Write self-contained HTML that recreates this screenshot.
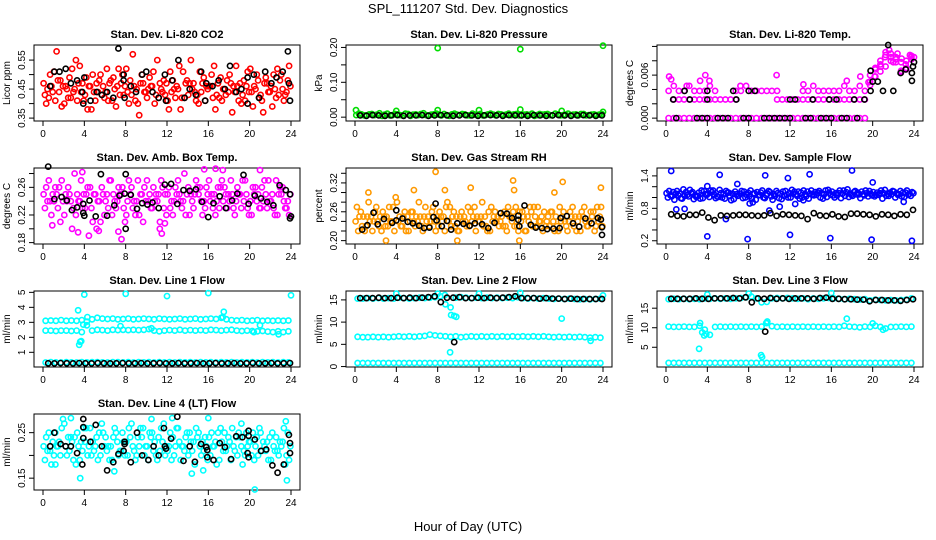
<!DOCTYPE html>
<html><head><meta charset="utf-8"><title>SPL_111207 Std. Dev. Diagnostics</title>
<style>
html,body{margin:0;padding:0;background:#fff;}
svg{display:block;font-family:"Liberation Sans",Arial,sans-serif;}
</style></head>
<body>
<svg id="chart" width="936" height="540" viewBox="0 0 936 540" xmlns="http://www.w3.org/2000/svg">
<rect x="0" y="0" width="936" height="540" fill="#fff"/>
<text x="468" y="13" text-anchor="middle" font-size="13">SPL_111207  Std. Dev. Diagnostics</text>
<text x="468" y="531" text-anchor="middle" font-size="13">Hour of Day (UTC)</text>
</svg>
<script>
// ===== data =====
const xTicks = [0,4,8,12,16,20,24];
// CO2 (red cloud, black)
const co2A = [0.47,0.42,0.51,0.44,0.40,0.49,0.45,0.53,0.43,0.46,0.41,0.50,0.44,0.48,0.39,0.47,0.52,0.43,0.45,0.50,0.42,0.46,0.55,0.44,0.41,0.48,0.45,0.51,0.43,0.47,0.40,0.49,0.46,0.53,0.42,0.45,0.50,0.44,0.47,0.41,0.52,0.45,0.43,0.49,0.46,0.42,0.50,0.44];
const co2B = [0.43,0.50,0.41,0.48,0.46,0.42,0.55,0.44,0.49,0.38,0.47,0.43,0.52,0.41,0.46,0.50,0.44,0.57,0.40,0.47,0.45,0.51,0.42,0.48,0.38,0.45,0.53,0.42,0.47,0.44,0.51,0.41,0.46,0.38,0.49,0.43,0.47,0.53,0.40,0.46,0.44,0.50,0.41,0.47,0.39,0.52,0.45,0.48];
const co2C = [0.40,0.46,0.58,0.39,0.45,0.52,0.41,0.47,0.38,0.50,0.44,0.46,0.41,0.49,0.52,0.43,0.40,0.46,0.36,0.44,0.49,0.40,0.47,0.43,0.51,0.42,0.38,0.47,0.55,0.41,0.44,0.46,0.50,0.43,0.41,0.48,0.37,0.46,0.43,0.51,0.39,0.48,0.37,0.44,0.50,0.43,0.41,0.53];
const co2D = [0.45,0.44,0.48,0.46,0.42,0.44,0.47,0.41,0.46,0.44,0.48,0.42,0.47,0.45,0.43,0.46,0.48,0.41,0.47,0.44,0.46,0.43,0.45,0.47,0.44,0.46,0.42,0.48,0.45,0.43,0.47,0.45,0.42,0.47,0.45,0.44,0.46,0.41,0.48,0.44,0.46,0.42,0.47,0.44,0.45,0.48,0.43,0.46];
const co2BlkH = [0.7,1.1,1.6,2.2,2.7,3.3,3.8,3.9,4.0,4.6,5.2,5.7,6.2,6.8,7.3,7.8,7.8,7.9,8.5,9.0,9.6,10.0,10.6,11.2,11.8,11.9,12.5,13.1,13.7,14.2,14.8,15.3,15.7,15.8,16.4,17.0,17.6,18.1,18.7,19.2,19.8,19.8,20.4,20.9,21.5,22.1,22.6,23.2,23.7,23.8,23.9];
const co2BlkV = [0.46,0.51,0.51,0.52,0.47,0.48,0.44,0.40,0.49,0.41,0.44,0.43,0.44,0.42,0.59,0.50,0.48,0.42,0.46,0.44,0.50,0.51,0.44,0.42,0.50,0.41,0.48,0.55,0.42,0.45,0.43,0.51,0.41,0.47,0.46,0.48,0.45,0.53,0.44,0.45,0.49,0.40,0.50,0.42,0.51,0.47,0.49,0.51,0.58,0.47,0.41];
// Pressure
const prA = [0.006,0.008,0.005,0.009,0.007,0.004,0.010,0.006,0.008,0.005,0.009,0.007,0.006,0.011,0.005,0.008,0.007,0.009,0.004,0.010,0.006,0.008,0.005,0.007,0.009,0.006,0.010,0.005,0.008,0.007,0.006,0.009,0.005,0.008,0.010,0.006,0.007,0.009,0.005,0.008,0.006,0.010,0.007,0.005,0.009,0.006,0.008,0.007];
const prB = [0.010,0.005,0.008,0.006,0.011,0.007,0.005,0.009,0.006,0.010,0.004,0.008,0.009,0.006,0.007,0.010,0.005,0.006,0.008,0.007,0.009,0.005,0.010,0.006,0.005,0.008,0.007,0.009,0.006,0.010,0.008,0.005,0.007,0.006,0.004,0.009,0.008,0.006,0.010,0.005,0.007,0.006,0.008,0.009,0.005,0.007,0.006,0.009];
const prOutH = [0.1,4.0,8.0,8.0,12.0,16.0,16.0,20.0,24.0,24.0];
const prOutV = [0.020,0.018,0.020,0.198,0.020,0.195,0.022,0.018,0.205,0.015];
const prBlk = [0.005,0.004,0.006,0.005,0.004,0.005,0.006,0.004,0.005,0.005,0.006,0.004,0.005,0.006,0.005,0.004,0.005,0.006,0.005,0.004,0.005,0.006,0.005,0.004,0.006,0.005,0.005,0.004,0.006,0.005,0.004,0.005,0.006,0.005,0.004,0.005,0.006,0.005,0.004,0.005];
// Li-820 Temp
const tmA = [0,0,0,0,0,0,0,0,0,0,0,0,0,0,0,0,0,0,0,0,0,0,0,0,0,0,0,0,0,0,0,0,0,0,0,0,0,0,0,0.0051,0.0058,0.0065,0.0072,0.0080,0.0085,0.0078,0.0070,0.0082];
const tmB = [null,0.0026,0.0026,0.0026,0.0026,0.0026,0.0026,0.0026,0.0026,0.0026,0.0026,0.0026,0.0026,0.0026,null,null,null,null,null,null,null,0.0026,0.0026,0.0026,0.0026,0.0026,0.0026,0.0026,0.0026,0.0026,0.0026,0.0026,0.0026,0.0026,0.0026,0.0026,0.0026,0.0026,0.0026,0.0060,0.0068,0.0075,0.0088,0.0090,0.0082,0.0064,0.0068,0.0085];
const tmC = [0.0038,0.0045,0.0038,0.0038,0.0045,0.0038,0.0038,0.0038,0.0045,0.0038,null,null,null,0.0038,0.0038,0.0045,0.0038,0.0038,0.0038,0.0038,0.0038,0.0038,null,null,null,null,0.0038,0.0038,0.0045,0.0038,0.0038,0.0038,0.0038,0.0038,0.0045,0.0038,0.0038,0.0045,0.0038,0.0046,0.0070,0.0080,0.0092,0.0085,0.0078,0.0066,0.0080,0.0087];
const tmOutH = [0.3,0.5,2.0,3.3,3.8,4.2,7.2,10.7,13.3,17.5,18.8,19.6,20.2,20.8,21.2,21.6,22.0,22.4,22.8,23.2,23.6,24.0];
const tmOutV = [0.0058,0.0054,0.0045,0.0052,0.0060,0.0052,0.0045,0.0060,0.0047,0.0052,0.0058,0.0050,0.0058,0.0072,0.0085,0.0095,0.0078,0.0090,0.0083,0.0075,0.0088,0.0085];
const tmBlkH = [1.0,3.0,3.5,4.0,5.0,5.5,6.0,7.5,8.0,9.5,10.0,10.5,11.0,11.5,12.0,13.5,14.0,15.0,15.5,16.0,17.0,17.5,18.5,0.7,2.3,4.0,6.8,12.0,12.5,14.2,15.8,16.5,18.2,19.2,1.8,4.0,6.5,8.0,8.6,19.8,19.8,20.0,20.5,21.0,21.5,22.0,22.7,23.2,23.8,23.8,23.9,24.0];
const tmBlkV = [0,0,0,0,0,0,0,0,0,0,0,0,0,0,0,0,0,0,0,0,0,0,0,0.0026,0.0026,0.0026,0.0026,0.0026,0.0026,0.0026,0.0026,0.0026,0.0026,0.0026,0.0038,0.0038,0.0038,0.0038,0.0038,0.0038,0.0066,0.0051,0.0051,0.0038,0.0102,0.0038,0.0063,0.0068,0.0052,0.0063,0.0072,0.0078];
// Amb box temp
const abA = [0.25,0.27,0.24,0.26,0.22,0.25,0.28,0.24,0.23,0.26,0.25,0.21,0.24,0.27,0.23,0.25,0.22,0.26,0.24,0.25,0.27,0.23,0.24,0.26,0.25,0.22,0.27,0.24,0.26,0.23,0.25,0.24,0.27,0.25,0.23,0.26,0.24,0.22,0.25,0.27,0.24,0.26,0.23,0.25,0.24,0.27,0.25,0.23];
const abB = [0.23,0.24,0.26,0.21,0.25,0.24,0.22,0.27,0.25,0.23,0.20,0.26,0.25,0.22,0.24,0.26,0.24,0.23,0.27,0.21,0.24,0.26,0.25,0.23,0.26,0.24,0.25,0.28,0.22,0.25,0.26,0.23,0.24,0.22,0.26,0.25,0.27,0.24,0.23,0.25,0.22,0.24,0.26,0.23,0.25,0.22,0.26,0.24];
const abC = [0.26,0.22,0.25,0.27,0.24,0.20,0.25,0.23,0.26,0.21,0.24,0.25,0.23,0.25,0.26,0.23,0.27,0.24,0.22,0.26,0.25,0.24,0.21,0.25,0.23,0.26,0.24,0.22,0.25,0.27,0.24,0.26,0.25,0.24,0.27,0.23,0.25,0.26,0.27,0.23,0.26,0.25,0.24,0.27,0.23,0.25,0.24,0.22];
const abD = [0.24,0.25,0.23,0.24,0.26,0.23,0.24,0.25,0.19,0.25,0.24,0.22,0.27,0.24,0.25,0.21,0.25,0.22,0.25,0.24,0.23,0.25,0.27,0.22,0.24,0.25,0.23,0.25,0.24,0.26,0.22,0.25,0.23,0.26,0.24,0.25,0.23,0.25,0.24,0.22,0.25,0.23,0.27,0.24,0.22,0.26,0.23,0.25];
const abOutH = [0.9,3.4,3.8,5.4,7.3,7.6,11.3,11.5,11.8,15.6,16.7,17.4,21.0];
const abOutV = [0.205,0.195,0.282,0.197,0.196,0.185,0.200,0.193,0.208,0.286,0.287,0.285,0.285];
const abBlkH = [0.5,1.1,1.8,2.3,2.8,3.3,3.9,3.9,4.0,4.5,5.1,5.6,6.2,6.9,7.4,7.9,8.0,8.0,8.5,9.1,9.6,10.1,10.6,11.2,11.8,12.4,13.0,13.6,14.2,14.8,15.4,16.0,16.5,17.1,17.7,18.3,18.8,19.4,19.9,20.5,21.1,21.7,22.3,22.9,23.5,23.9,24.0,23.9];
const abBlkV = [0.290,0.243,0.246,0.241,0.227,0.231,0.236,0.223,0.219,0.241,0.218,0.279,0.219,0.234,0.248,0.251,0.200,0.279,0.249,0.229,0.237,0.235,0.238,0.230,0.264,0.265,0.236,0.256,0.255,0.257,0.239,0.217,0.237,0.247,0.230,0.241,0.251,0.278,0.236,0.248,0.244,0.239,0.234,0.263,0.256,0.250,0.218,0.215];
// Gas stream RH
const rhA = [0.24,0.26,0.23,0.25,0.27,0.22,0.25,0.24,0.28,0.23,0.25,0.26,0.24,0.22,0.25,0.27,0.23,0.25,0.24,0.26,0.22,0.25,0.23,0.27,0.24,0.25,0.22,0.26,0.24,0.23,0.25,0.27,0.24,0.22,0.26,0.23,0.25,0.24,0.26,0.23,0.25,0.22,0.27,0.24,0.25,0.23,0.26,0.24];
const rhB = [0.27,0.23,0.25,0.22,0.24,0.26,0.23,0.27,0.24,0.25,0.22,0.24,0.28,0.25,0.23,0.24,0.26,0.22,0.27,0.23,0.25,0.24,0.26,0.22,0.25,0.23,0.27,0.24,0.25,0.22,0.24,0.23,0.26,0.25,0.23,0.27,0.22,0.25,0.24,0.22,0.26,0.24,0.23,0.25,0.27,0.24,0.22,0.25];
const rhC = [0.22,0.25,0.28,0.24,0.23,0.25,0.27,0.22,0.25,0.26,0.24,0.23,0.25,0.27,0.24,0.22,0.25,0.27,0.23,0.25,0.26,0.23,0.24,0.25,0.28,0.22,0.24,0.25,0.23,0.27,0.26,0.22,0.25,0.24,0.27,0.24,0.26,0.23,0.22,0.27,0.24,0.26,0.25,0.22,0.24,0.26,0.23,0.27];
const rhD = [0.25,0.22,0.24,0.26,0.25,0.23,0.24,0.29,0.23,0.22,0.26,0.25,0.23,0.24,0.26,0.25,0.24,0.28,0.25,0.22,0.24,0.27,0.25,0.24,0.23,0.26,0.25,0.23,0.26,0.25,0.23,0.26,0.22,0.27,0.25,0.24,0.23,0.26,0.25,0.24,0.23,0.25,0.22,0.26,0.23,0.25,0.27,0.23];
const rhOutH = [1.3,3.0,5.7,7.8,8.7,9.9,11.2,15.3,15.4,15.9,19.3,20.1,23.8];
const rhOutV = [0.300,0.200,0.305,0.343,0.305,0.200,0.310,0.325,0.305,0.200,0.300,0.322,0.310];
const rhBlkH = [0.7,1.2,1.8,2.2,2.8,3.6,4.0,4.0,4.6,5.1,5.6,6.2,6.7,7.2,7.6,7.8,7.9,8.4,8.9,9.3,9.9,10.5,11.1,11.6,12.3,12.9,13.5,14.1,14.7,15.2,15.8,15.8,15.9,16.4,17.0,17.5,18.1,18.6,19.2,19.8,19.9,20.5,21.1,21.7,22.3,22.9,23.5,23.8,23.9,23.9];
const rhBlkV = [0.223,0.232,0.258,0.234,0.245,0.237,0.263,0.242,0.246,0.239,0.236,0.231,0.226,0.227,0.249,0.277,0.242,0.230,0.241,0.223,0.236,0.235,0.231,0.236,0.234,0.226,0.237,0.257,0.256,0.247,0.252,0.243,0.230,0.273,0.233,0.227,0.226,0.224,0.225,0.226,0.247,0.251,0.236,0.229,0.246,0.236,0.247,0.244,0.228,0.212];
// Sample flow
const sfA = [1.08,1.02,1.12,0.98,1.05,1.10,1.03,0.99,1.07,1.13,1.01,1.06,1.09,0.97,1.04,1.11,1.02,1.08,1.05,0.99,1.10,1.03,1.07,1.12,1.00,1.06,1.09,1.02,1.13,1.05,1.08,1.01,1.11,1.04,1.07,1.15,1.03,1.09,1.06,1.02,1.10,1.05,1.08,1.03,1.11,1.06,1.01,1.07];
const sfB = [1.00,1.10,1.04,1.15,1.02,0.97,1.09,1.12,1.01,1.05,1.14,0.98,1.03,1.11,1.07,1.00,1.13,0.96,1.09,1.04,1.02,1.12,0.97,1.05,1.14,1.03,1.00,1.11,1.06,1.09,0.98,1.14,1.04,1.08,1.13,1.01,1.10,1.06,1.04,1.12,1.02,1.08,1.14,1.09,1.00,1.12,1.09,1.03];
const sfC = [1.12,0.96,1.07,1.03,1.14,1.04,0.98,1.06,1.13,0.99,1.08,1.12,0.95,1.06,1.12,1.05,0.98,1.10,1.13,1.07,0.96,1.08,1.11,1.00,1.07,1.11,1.13,0.98,1.04,1.12,1.06,1.09,1.00,1.13,1.03,1.07,1.12,0.99,1.13,1.07,1.05,1.13,1.03,1.06,1.08,1.02,1.13,1.10];
const sfD = [1.04,1.07,0.99,1.10,1.08,1.01,1.13,1.05,1.10,1.02,1.00,1.09,1.07,1.03,0.99,1.09,1.07,1.04,1.00,1.12,1.06,0.99,1.03,1.08,1.11,0.98,1.06,1.07,1.10,1.00,1.13,1.05,1.08,0.99,1.10,1.05,1.06,1.11,1.08,1.04,1.09,0.98,1.07,1.12,1.05,1.09,1.05,1.08];
const sfOutH = [0.5,1.0,1.8,4.0,4.0,5.2,5.8,6.9,7.9,8.1,8.4,9.6,10.0,11.0,11.8,12.0,12.5,13.3,13.9,15.9,18.0,19.9,20.0,23.0,23.8];
const sfOutV = [1.49,0.78,0.79,0.28,1.21,1.42,0.60,1.25,0.23,0.89,0.91,1.41,0.76,0.83,1.36,0.31,0.88,0.95,1.43,0.25,1.50,0.22,1.28,0.92,0.20];
const sfBlk = [0.69,0.66,0.65,0.68,0.68,0.72,0.63,0.58,0.67,0.66,0.67,0.68,0.68,0.67,0.66,0.67,0.71,0.66,0.69,0.68,0.67,0.66,0.60,0.71,0.67,0.66,0.69,0.65,0.64,0.70,0.70,0.69,0.68,0.65,0.69,0.68,0.66,0.69,0.68,0.77];
// Line 1 flow
const l1A = [3.10,3.12,3.10,3.15,3.10,3.12,3.10,3.15,3.05,3.20,3.30,3.25,3.22,3.25,3.20,3.22,3.25,3.20,3.22,3.25,3.22,3.20,3.25,3.22,3.20,3.22,3.25,3.20,3.22,3.25,3.20,3.22,3.25,3.22,3.30,3.20,3.15,3.12,3.15,3.10,3.12,3.15,3.10,3.12,3.10,3.12,3.10,3.12];
const l1B = [2.45,2.45,2.42,2.45,2.45,2.42,2.45,2.35,2.80,2.45,2.50,2.48,2.45,2.50,2.48,2.50,2.48,2.50,2.48,2.50,2.55,2.45,2.40,2.45,2.48,2.45,2.50,2.45,2.48,2.45,2.48,2.45,2.50,2.48,2.45,2.48,2.50,2.45,2.42,2.45,2.42,2.40,2.42,2.38,2.35,2.40,2.35,2.40];
const l1C = [0.32,0.35,0.33,0.32,0.35,0.33,0.32,0.35,0.33,0.34,0.35,0.33,0.32,0.35,0.34,0.33,0.35,0.32,0.34,0.33,0.35,0.32,0.34,0.33,0.35,0.32,0.34,0.33,0.35,0.32,0.34,0.33,0.35,0.32,0.34,0.33,0.35,0.32,0.34,0.33,0.35,0.32,0.34,0.33,0.35,0.32,0.34,0.33];
const l1OutH = [3.4,3.5,3.6,3.7,3.9,4.0,4.3,8.0,12.0,16.0,24.0,7.5,10.5,17.5,17.4,21.0,22.8,20.4];
const l1OutV = [3.80,1.50,1.70,1.75,2.85,4.85,3.35,4.90,4.75,4.95,4.80,2.75,2.60,3.70,3.35,2.80,2.20,2.35];
const l1Blk = [0.27,0.26,0.28,0.27,0.26,0.28,0.27,0.26,0.28,0.27,0.26,0.27,0.28,0.26,0.27,0.28,0.26,0.27,0.28,0.26,0.27,0.28,0.26,0.27,0.28,0.26,0.27,0.28,0.26,0.27,0.28,0.26,0.27,0.28,0.26,0.27,0.28,0.26,0.27,0.28];
// Line 2 flow
const l2A = [15.3,15.3,15.4,15.3,15.4,15.3,15.4,15.3,15.5,15.4,15.3,15.4,15.5,15.4,15.5,15.6,15.8,14.0,13.3,15.5,15.6,15.5,15.4,15.5,15.4,15.5,15.4,15.5,15.4,15.5,15.4,15.6,15.4,15.3,15.4,15.3,15.4,15.3,15.2,15.3,15.2,15.3,15.2,15.1,15.2,15.1,15.2,15.3];
const l2B = [6.7,6.6,6.6,6.7,6.6,6.7,6.6,6.7,6.8,6.7,6.8,6.7,6.8,6.9,7.2,7.0,6.9,6.8,6.7,6.8,6.6,6.7,6.8,6.7,6.8,6.7,6.8,6.7,6.8,6.7,6.8,6.7,6.8,6.7,6.8,6.7,6.8,6.7,6.6,6.7,6.6,6.7,6.6,6.7,6.6,6.5,6.6,6.5];
const l2C = [0.8,0.8,0.8,0.8,0.8,0.8,0.8,0.8,0.8,0.8,0.8,0.8,0.8,0.8,0.8,0.8,0.8,0.8,0.8,0.8,0.8,0.8,0.8,0.8,0.8,0.8,0.8,0.8,0.8,0.8,0.8,0.8,0.8,0.8,0.8,0.8,0.8,0.8,0.8,0.8,0.8,0.8,0.8,0.8,0.8,0.8,0.8,0.8];
const l2OutH = [4.0,8.0,12.0,16.0,24.0,9.2,9.3,9.6,9.8,20.0,22.8,8.7];
const l2OutV = [16.4,16.4,16.4,16.6,16.0,3.2,11.6,11.4,11.2,10.8,5.8,16.1];
const l2Blk = [15.4,15.4,15.4,15.5,15.4,15.4,15.5,15.4,15.5,15.4,15.5,15.6,15.8,14.5,15.5,15.5,15.6,15.4,15.4,15.5,15.4,15.5,15.4,15.5,15.6,15.8,15.4,15.4,15.4,15.3,15.4,15.3,15.3,15.2,15.3,15.2,15.2,15.2,15.2,15.2];
const l2BlkOutH = [9.6];
const l2BlkOutV = [5.5];
// Line 3 flow
const l3A = [17.3,17.4,17.3,17.4,17.3,17.4,17.3,17.5,17.4,17.5,17.4,17.5,17.4,17.5,17.6,17.8,18.0,17.5,16.5,16.6,17.5,17.6,17.5,17.6,17.5,17.4,17.5,17.3,17.5,17.4,17.5,17.6,17.5,17.4,17.3,17.4,17.3,17.2,17.3,17.0,17.2,17.1,17.0,17.1,17.0,17.1,17.2,17.5];
const l3B = [10.3,10.2,10.2,10.3,10.2,10.2,10.5,9.5,8.2,10.2,10.3,10.2,10.3,10.2,10.3,10.2,10.3,10.2,10.3,11.2,10.4,10.2,10.3,10.2,10.3,10.2,10.3,10.2,10.3,10.2,10.3,10.2,10.3,10.2,10.5,10.3,10.2,10.1,10.3,10.2,10.5,10.2,9.8,10.2,10.2,10.3,10.2,10.3];
const l3C = [1.0,1.0,1.0,1.0,1.0,1.0,1.0,1.0,1.0,1.0,1.0,1.0,1.0,1.0,1.0,1.0,1.0,1.0,1.0,1.0,1.0,1.0,1.0,1.0,1.0,1.0,1.0,1.0,1.0,1.0,1.0,1.0,1.0,1.0,1.0,1.0,1.0,1.0,1.0,1.0,1.0,1.0,1.0,1.0,1.0,1.0,1.0,1.0];
const l3OutH = [3.2,3.3,3.5,3.7,3.9,4.0,8.0,9.2,9.3,9.7,9.8,16.0,17.5,20.0,21.0];
const l3OutV = [4.6,11.2,8.8,8.0,8.4,18.5,18.7,3.0,2.5,11.2,11.6,18.9,12.3,11.1,9.5];
const l3Blk = [17.4,17.4,17.4,17.4,17.5,17.4,17.4,17.5,17.5,17.5,17.6,17.5,17.8,16.5,17.5,17.4,17.6,17.4,17.5,17.4,17.5,17.5,17.5,17.4,17.6,17.7,17.4,17.4,17.3,17.3,17.2,17.2,16.8,17.1,17.1,17.0,17.0,16.9,17.1,17.3];
const l3BlkOutH = [9.6];
const l3BlkOutV = [9.0];
// Line 4 (LT) flow
const l4A = [0.22,0.25,0.20,0.23,0.27,0.21,0.24,0.19,0.23,0.26,0.22,0.20,0.24,0.22,0.25,0.21,0.23,0.27,0.20,0.24,0.22,0.25,0.19,0.23,0.21,0.24,0.26,0.22,0.20,0.23,0.25,0.21,0.24,0.22,0.19,0.25,0.23,0.21,0.24,0.20,0.23,0.22,0.25,0.21,0.19,0.24,0.22,0.20];
const l4B = [0.19,0.21,0.25,0.20,0.22,0.24,0.18,0.23,0.26,0.20,0.24,0.27,0.21,0.19,0.23,0.25,0.20,0.22,0.24,0.26,0.19,0.21,0.24,0.27,0.22,0.20,0.23,0.21,0.25,0.18,0.22,0.24,0.20,0.23,0.26,0.21,0.19,0.24,0.22,0.25,0.20,0.24,0.21,0.23,0.25,0.21,0.23,0.25];
const l4C = [0.24,0.18,0.22,0.26,0.20,0.23,0.25,0.21,0.20,0.23,0.19,0.25,0.22,0.24,0.20,0.23,0.26,0.21,0.22,0.20,0.25,0.23,0.21,0.20,0.25,0.22,0.19,0.24,0.23,0.26,0.20,0.22,0.25,0.18,0.23,0.22,0.26,0.20,0.18,0.22,0.25,0.20,0.23,0.19,0.22,0.20,0.26,0.19];
const l4D = [0.21,0.23,0.22,0.28,0.24,0.19,0.22,0.26,0.22,0.21,0.25,0.22,0.19,0.26,0.21,0.20,0.24,0.19,0.26,0.22,0.24,0.20,0.26,0.22,0.19,0.26,0.22,0.25,0.21,0.24,0.23,0.19,0.22,0.25,0.21,0.24,0.22,0.25,0.21,0.23,0.19,0.26,0.22,0.24,0.21,0.23,0.18,0.22];
const l4OutH = [3.6,6.9,2.7,10.5,12.5,16.0,20.5,23.6,23.5,15.5,14.4,1.2,19.2];
const l4OutV = [0.150,0.165,0.282,0.280,0.282,0.282,0.125,0.145,0.275,0.167,0.160,0.180,0.270];
const l4BlkH = [0.7,1.1,1.7,2.2,2.7,3.3,3.8,3.9,3.9,3.9,4.6,5.1,5.7,6.2,6.8,7.3,7.8,7.9,7.9,8.5,9.1,9.6,10.2,10.7,11.2,11.7,11.8,11.9,12.4,13.0,13.6,14.2,14.7,15.3,15.8,15.9,15.9,16.5,17.1,17.6,18.2,18.7,19.3,19.8,19.9,19.9,19.9,20.5,21.1,21.6,22.2,22.7,23.3,23.8,23.9,23.9];
const l4BlkV = [0.220,0.250,0.225,0.220,0.220,0.205,0.180,0.280,0.262,0.238,0.230,0.267,0.220,0.167,0.185,0.203,0.210,0.225,0.230,0.185,0.250,0.200,0.190,0.220,0.200,0.260,0.220,0.215,0.237,0.285,0.188,0.220,0.186,0.225,0.218,0.212,0.196,0.190,0.227,0.218,0.192,0.242,0.240,0.205,0.243,0.254,0.196,0.235,0.210,0.213,0.178,0.162,0.180,0.245,0.227,0.205];

// ===== layout =====
const NS = 'http://www.w3.org/2000/svg';
const svg = document.getElementById('chart');
const COLS = [34, 346, 657];
const ROWS = [45, 168, 291, 414];
const BW = 266, BH = 76;

function mk(tag, attrs, parent) {
  const e = document.createElementNS(NS, tag);
  for (const k in attrs) e.setAttribute(k, attrs[k]);
  (parent || svg).appendChild(e);
  return e;
}

function panel(key, col, row, title, ylab, lo, hi, ticks, labels) {
  const L = COLS[col], T = ROWS[row];
  const g = mk('g', {});
  
  
  const xs = h => L + 9 + h * 248 / 24;
  const ys = v => T + BH - (v - lo) / (hi - lo) * BH;
  const box = mk('rect', {x: L, y: T, width: BW, height: BH, fill: 'none', stroke: '#000', 'stroke-width': 1}, g);
  
  
  const t = mk('text', {x: L + BW / 2, y: T - 7, 'text-anchor': 'middle', 'font-size': 11, 'font-weight': 'bold'}, g);
  t.textContent = title;
  
  
  const yl = mk('text', {x: 0, y: 0, 'text-anchor': 'middle', 'font-size': 10, transform: 'translate(' + (L - 24) + ',' + (T + BH / 2) + ') rotate(-90)'}, g);
  yl.textContent = ylab;
  
  
  // x axis
  const xa = mk('g', {}, g);
  
  
  xTicks.forEach(h => {
    mk('line', {x1: xs(h), x2: xs(h), y1: T + BH, y2: T + BH + 5, stroke: '#000'}, xa);
    const tl = mk('text', {x: xs(h), y: T + BH + 16, 'text-anchor': 'middle', 'font-size': 10}, xa);
    tl.textContent = String(h);
    
    
  });
  // y axis
  const ya = mk('g', {}, g);
  
  
  ticks.forEach(v => {
    mk('line', {x1: L - 5, x2: L, y1: ys(v), y2: ys(v), stroke: '#000'}, ya);
  });
  labels.forEach(s => {
    const v = parseFloat(s);
    const tl = mk('text', {x: 0, y: 0, 'text-anchor': 'middle', 'font-size': 10, transform: 'translate(' + (L - 9) + ',' + ys(v) + ') rotate(-90)'}, ya);
    tl.textContent = s;
    
    
  });
  const pts = mk('g', {}, g);
  
  
  return {xs, ys, pts, key};
}

function pt(P, h, v, color, name) {
  if (v === null || v === undefined) return;
  const c = mk('circle', {cx: P.xs(h).toFixed(1), cy: P.ys(v).toFixed(1), r: 2.6, fill: 'none', stroke: color, 'stroke-width': 1.6}, P.pts);
  
  
}
// regular-series: index -> hour
function series(P, arr, k, K, color, name) {
  arr.forEach((v, i) => pt(P, (i + (k + 0.5) / K) * 24 / arr.length, v, color, name));
}
function evenSeries(P, arr, color, name) {
  arr.forEach((v, i) => pt(P, 0.5 + i * 23.4 / (arr.length - 1), v, color, name));
}
function pairs(P, hs, vs, color, name) {
  hs.forEach((h, i) => pt(P, h, vs[i], color, name));
}

// CO2
let P = panel('co2', 0, 0, 'Stan. Dev. Li-820 CO2', 'Licor ppm', 0.340, 0.602, [0.35,0.40,0.45,0.50,0.55], ['0.35','0.45','0.55']);
[co2A, co2B, co2C, co2D].forEach((a, k) => series(P, a, k, 4, '#ff0000', 'co2-point'));
pairs(P, co2BlkH, co2BlkV, '#000', 'co2-black-point');
// Pressure
P = panel('pressure', 1, 0, 'Stan. Dev. Li-820 Pressure', 'kPa', -0.011, 0.207, [0,0.05,0.10,0.15,0.20], ['0.00','0.10','0.20']);
[prA, prB].forEach((a, k) => series(P, a, k, 2, '#00dd00', 'pressure-point'));
pairs(P, prOutH, prOutV, '#00dd00', 'pressure-outlier');
evenSeries(P, prBlk, '#000', 'pressure-black-point');
// Temp
P = panel('licor-temp', 2, 0, 'Stan. Dev. Li-820 Temp.', 'degrees C', -0.0004, 0.0102, [0,0.002,0.004,0.006,0.008,0.010], ['0.000','0.006']);
[tmA, tmB, tmC].forEach(a => series(P, a, 0, 1, '#ff00ff', 'licor-temp-point'));
pairs(P, tmOutH, tmOutV, '#ff00ff', 'licor-temp-outlier');
pairs(P, tmBlkH, tmBlkV, '#000', 'licor-temp-black-point');
// Amb box
P = panel('amb-box-temp', 0, 1, 'Stan. Dev. Amb. Box Temp.', 'degrees C', 0.178, 0.288, [0.18,0.20,0.22,0.24,0.26,0.28], ['0.18','0.22','0.26']);
[abA, abB, abC, abD].forEach((a, k) => series(P, a, k, 4, '#ff00ff', 'amb-temp-point'));
pairs(P, abOutH, abOutV, '#ff00ff', 'amb-temp-outlier');
pairs(P, abBlkH, abBlkV, '#000', 'amb-temp-black-point');
// RH
P = panel('gas-rh', 1, 1, 'Stan. Dev. Gas Stream RH', 'percent', 0.193, 0.351, [0.20,0.22,0.24,0.26,0.28,0.30,0.32,0.34], ['0.20','0.26','0.32']);
[rhA, rhB, rhC, rhD].forEach((a, k) => series(P, a, k, 4, '#ff9900', 'rh-point'));
pairs(P, rhOutH, rhOutV, '#ff9900', 'rh-outlier');
pairs(P, rhBlkH, rhBlkV, '#000', 'rh-black-point');
// Sample flow
P = panel('sample-flow', 2, 1, 'Stan. Dev. Sample Flow', 'ml/min', 0.14, 1.546, [0.2,0.4,0.6,0.8,1.0,1.2,1.4], ['0.2','0.8','1.4']);
[sfA, sfB, sfC, sfD].forEach((a, k) => series(P, a, k, 4, '#0000ff', 'sample-flow-point'));
pairs(P, sfOutH, sfOutV, '#0000ff', 'sample-flow-outlier');
evenSeries(P, sfBlk, '#000', 'sample-flow-black-point');
// Line 1
P = panel('line1-flow', 0, 2, 'Stan. Dev. Line 1 Flow', 'ml/min', 0.02, 5.09, [1,2,3,4,5], ['1','2','3','4','5']);
[l1A, l1B, l1C].forEach(a => series(P, a, 0, 1, '#00ffff', 'line1-point'));
pairs(P, l1OutH, l1OutV, '#00ffff', 'line1-outlier');
evenSeries(P, l1Blk, '#000', 'line1-black-point');
// Line 2
P = panel('line2-flow', 1, 2, 'Stan. Dev. Line 2 Flow', 'ml/min', -0.1, 17.0, [0,5,10,15], ['0','5','10','15']);
[l2A, l2B, l2C].forEach(a => series(P, a, 0, 1, '#00ffff', 'line2-point'));
pairs(P, l2OutH, l2OutV, '#00ffff', 'line2-outlier');
evenSeries(P, l2Blk, '#000', 'line2-black-point');
pairs(P, l2BlkOutH, l2BlkOutV, '#000', 'line2-black-outlier');
// Line 3
P = panel('line3-flow', 2, 2, 'Stan. Dev. Line 3 Flow', 'ml/min', -0.05, 19.4, [5,10,15], ['5','10','15']);
[l3A, l3B, l3C].forEach(a => series(P, a, 0, 1, '#00ffff', 'line3-point'));
pairs(P, l3OutH, l3OutV, '#00ffff', 'line3-outlier');
evenSeries(P, l3Blk, '#000', 'line3-black-point');
pairs(P, l3BlkOutH, l3BlkOutV, '#000', 'line3-black-outlier');
// Line 4
P = panel('line4-flow', 0, 3, 'Stan. Dev. Line 4 (LT) Flow', 'ml/min', 0.124, 0.291, [0.15,0.20,0.25], ['0.15','0.25']);
[l4A, l4B, l4C, l4D].forEach((a, k) => series(P, a, k, 4, '#00ffff', 'line4-point'));
pairs(P, l4OutH, l4OutV, '#00ffff', 'line4-outlier');
pairs(P, l4BlkH, l4BlkV, '#000', 'line4-black-point');
</script>
</body></html>
